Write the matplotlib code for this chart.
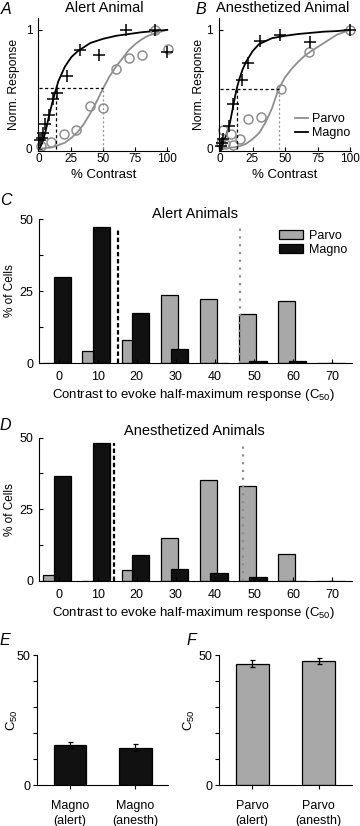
import matplotlib
matplotlib.use("Agg")
import matplotlib.pyplot as plt
import numpy as np
from matplotlib.patches import Patch
from matplotlib.lines import Line2D

plt.rcParams["font.family"] = ["Liberation Sans", "DejaVu Sans"]
plt.rcParams["mathtext.fontset"] = "custom"
plt.rcParams["mathtext.rm"] = "Liberation Sans"

GRAY = "#8e8e8e"
BARGRAY = "#a8a8a8"

# ---- panel A: alert animal, contrast response ----
a_magno_c = [0.8, 2.0, 2.9, 4.7, 7.8, 10.4, 13.8, 21.6, 31.5, 46.9, 68.0, 90.6, 100.0]
a_magno_r = [0.075, 0.09, 0.13, 0.21, 0.28, 0.42, 0.47, 0.61, 0.83, 0.79, 1.0, 1.0, 0.81]
a_parvo_c = [1.0, 9.5, 19.5, 29.0, 39.5, 50.0, 60.0, 70.0, 80.5, 90.5, 100.5]
a_parvo_r = [0.02, 0.06, 0.12, 0.16, 0.36, 0.34, 0.67, 0.76, 0.79, 1.0, 0.84]
a_magno_fit_c = [0, 2.5, 5, 7.5, 10, 12.5, 15, 20, 25, 30, 40, 50, 60, 70, 80, 90, 100]
a_magno_fit_r = [0.0, 0.05, 0.15, 0.27, 0.38, 0.48, 0.57, 0.69, 0.77, 0.82, 0.89, 0.925, 0.95, 0.965, 0.98, 0.99, 1.0]
a_parvo_fit_c = [0, 10, 20, 25, 30, 35, 40, 45, 50, 55, 60, 65, 70, 75, 80, 85, 90, 100]
a_parvo_fit_r = [0.0, 0.01, 0.05, 0.09, 0.14, 0.21, 0.30, 0.40, 0.51, 0.61, 0.69, 0.76, 0.83, 0.88, 0.92, 0.95, 0.97, 1.0]
a_c50 = (13.0, 50.0)
a_half = 0.51

# ---- panel B: anesthetized animal ----
b_magno_c = [0.5, 1.3, 2.6, 7.2, 10.3, 16.7, 21.8, 30.8, 46.2, 69.2, 100.0]
b_magno_r = [0.02, 0.05, 0.08, 0.19, 0.38, 0.58, 0.72, 0.91, 0.96, 0.90, 1.0]
b_parvo_c = [1.0, 2.4, 3.8, 8.2, 10.0, 15.4, 21.8, 31.5, 47.0, 68.5, 100.0]
b_parvo_r = [0.05, 0.16, 0.04, 0.12, 0.03, 0.08, 0.25, 0.27, 0.505, 0.81, 1.0]
b_magno_fit_c = [0, 2.5, 5, 7.5, 10, 12.5, 15, 17.5, 20, 25, 30, 40, 50, 60, 70, 80, 90, 100]
b_magno_fit_r = [0, 0.05, 0.12, 0.21, 0.35, 0.49, 0.59, 0.67, 0.73, 0.82, 0.88, 0.93, 0.95, 0.965, 0.975, 0.985, 0.99, 1.0]
b_parvo_fit_c = [0, 10, 15, 20, 25, 30, 35, 40, 45, 50, 55, 60, 65, 70, 80, 90, 100]
b_parvo_fit_r = [0, 0.01, 0.02, 0.04, 0.08, 0.13, 0.22, 0.34, 0.5, 0.6, 0.67, 0.73, 0.78, 0.82, 0.89, 0.96, 1.0]
b_c50 = (12.8, 45.0)
b_half = 0.5

# ---- panels C, D: C50 histograms ----
bins = [0, 10, 20, 30, 40, 50, 60, 70]
c_parvo = [0, 4.3, 7.9, 23.7, 22.3, 17.1, 21.4, 0]
c_magno = [29.7, 47.1, 17.4, 5.0, 0, 0.8, 0.8, 0]
c_lines = (15.2, 46.4)
c_line_top = 47.0
d_parvo = [2.0, 0, 3.7, 14.8, 35.1, 33.0, 9.3, 0]
d_magno = [36.5, 48.0, 9.0, 4.0, 2.8, 1.4, 0, 0]
d_lines = (14.1, 47.1)
d_line_top = 48.0

# ---- panels E, F: mean C50 ----
e_labels = ["Magno\n(alert)", "Magno\n(anesth)"]
e_means = [15.4, 14.4]
e_err = [1.0, 1.3]
f_labels = ["Parvo\n(alert)", "Parvo\n(anesth)"]
f_means = [46.7, 47.7]
f_err = [1.4, 1.0]

W, H = 360, 826
fig = plt.figure(figsize=(W / 100, H / 100), dpi=100)


def axes_px(x0, x1, ytop, ybot):
    return fig.add_axes([x0 / W, 1 - ybot / H, (x1 - x0) / W, (ybot - ytop) / H])


def style(ax, size, direction="in", xpad=2, ypad=3):
    ax.spines["top"].set_visible(False)
    ax.spines["right"].set_visible(False)
    ax.tick_params(direction=direction, length=3, width=0.8, labelsize=size)
    ax.tick_params(axis="x", pad=xpad)
    ax.tick_params(axis="y", pad=ypad)


def letter(x, y, s):
    fig.text(x / W, 1 - y / H, s, fontsize=11.5, style="italic", ha="left", va="top")


def response_panel(ax, title, mc, mr, pc, pr, mfc, mfr, pfc, pfr, c50, half, tx, ylx):
    ax.plot(pfc, pfr, color=GRAY, lw=1.3, clip_on=False)
    ax.plot(mfc, mfr, color="black", lw=1.3, clip_on=False)
    ax.plot(pc, pr, "o", mfc="none", mec=GRAY, ms=6.5, mew=1.1, clip_on=False)
    ax.plot(mc, mr, "+", color="black", ms=8, mew=1.1, clip_on=False)
    ax.plot([0, c50[1]], [half, half], color="black", ls=(0, (2.5, 2)), lw=0.9)
    ax.plot([c50[0], c50[0]], [0, half], color="black", ls=(0, (2.5, 2)), lw=0.9)
    ax.plot([c50[1], c50[1]], [0, half], color=GRAY, ls=(0, (1.5, 2)), lw=0.9)
    ax.set_xlim(-1, 101)
    ax.set_ylim(-0.02, 1.1)
    ax.set_xticks([0, 25, 50, 75, 100])
    ax.set_yticks([0, 1])
    ax.set_xlabel("% Contrast", fontsize=9.5)
    ax.xaxis.set_label_coords(0.5, -0.135)
    ax.set_ylabel("Norm. Response", fontsize=8.7)
    ax.yaxis.set_label_coords(ylx, 0.5)
    ax.text(tx, 1.045, title, fontsize=10.5, ha="center", va="baseline", transform=ax.transAxes)
    style(ax, 8.5, xpad=1.5, ypad=4)


axA = axes_px(38, 168.5, 18, 151)
response_panel(axA, "Alert Animal", a_magno_c, a_magno_r, a_parvo_c, a_parvo_r,
               a_magno_fit_c, a_magno_fit_r, a_parvo_fit_c, a_parvo_fit_r, a_c50, a_half,
               0.506, -0.138)
axB = axes_px(218.7, 351.3, 18, 151)
response_panel(axB, "Anesthetized Animal", b_magno_c, b_magno_r, b_parvo_c, b_parvo_r,
               b_magno_fit_c, b_magno_fit_r, b_parvo_fit_c, b_parvo_fit_r, b_c50, b_half,
               0.48, -0.103)
axB.legend(handles=[Line2D([], [], color=GRAY, lw=1.3, label="Parvo"),
                    Line2D([], [], color="black", lw=1.3, label="Magno")],
           loc="lower right", bbox_to_anchor=(1.03, 0.05), frameon=False, fontsize=9,
           handlelength=1.0, handletextpad=0.35, labelspacing=0.15, borderaxespad=0)
letter(1, 2, "A")
letter(195, 2, "B")


def hist_panel(ax, title, parvo, magno, lines, top, ty):
    x = np.array(bins, dtype=float)
    ax.bar(x - 1.7, parvo, width=4.4, color=BARGRAY, edgecolor="black", lw=0.9)
    ax.bar(x + 1.0, magno, width=4.4, color="#111111", edgecolor="black", lw=0.9)
    ax.plot([lines[0], lines[0]], [0, top], color="black", ls=(0, (2, 1.2)), lw=1.6)
    ax.plot([lines[1], lines[1]], [0, top], color=GRAY, ls=(0, (1, 2.5)), lw=1.6)
    ax.set_xlim(-5, 75)
    ax.set_ylim(0, 50)
    ax.set_xticks(bins)
    ax.set_yticks([0, 12.5, 25, 37.5, 50])
    ax.set_yticklabels(["0", "", "25", "", "50"])
    ax.set_xlabel("Contrast to evoke half-maximum response (C$_{50}$)", fontsize=9.5)
    ax.xaxis.set_label_coords(0.495, -0.17)
    ax.set_ylabel("% of Cells", fontsize=8.5)
    ax.yaxis.set_label_coords(-0.075, 0.5)
    ax.text(0.497, ty, title, fontsize=10.5, ha="center", va="baseline", transform=ax.transAxes)
    style(ax, 9, xpad=6, ypad=4)


axC = axes_px(39, 352, 219, 363)
hist_panel(axC, "Alert Animals", c_parvo, c_magno, c_lines, c_line_top, 1.01)
axC.legend(handles=[Patch(facecolor=BARGRAY, edgecolor="black", lw=0.9, label="Parvo"),
                    Patch(facecolor="#111111", edgecolor="black", lw=0.9, label="Magno")],
           loc="upper right", bbox_to_anchor=(1.0, 0.96), frameon=False, fontsize=9,
           handlelength=1.85, handleheight=0.75, handletextpad=0.5, labelspacing=0.2,
           borderaxespad=0)
axD = axes_px(39, 352, 437.7, 580.7)
hist_panel(axD, "Anesthetized Animals", d_parvo, d_magno, d_lines, d_line_top, 1.02)
letter(0, 193, "C")
letter(0, 418, "D")


def mean_panel(ax, labels, means, errs, color, ylx):
    pos = np.arange(1, len(means) + 1)
    ax.bar(pos, means, width=0.5, color=color, edgecolor="black", lw=0.9)
    ax.errorbar(pos, means, yerr=errs, fmt="none", ecolor="black", elinewidth=0.9,
                capsize=1.8, capthick=0.9)
    ax.set_xlim(0.5, 2.5)
    ax.set_ylim(0, 50)
    ax.set_yticks([0, 10, 20, 30, 40, 50])
    ax.set_yticklabels(["0", "", "", "", "", "50"])
    ax.set_xticks(pos)
    ax.set_xticklabels(labels, fontsize=9, linespacing=1.25)
    ax.set_ylabel("C$_{50}$", fontsize=9.5)
    ax.yaxis.set_label_coords(ylx, 0.5)
    style(ax, 9, direction="out", xpad=8, ypad=2)


axE = axes_px(37.3, 168, 655, 785)
mean_panel(axE, e_labels, e_means, e_err, "#111111", -0.13)
axF = axes_px(219, 351.7, 655, 785)
mean_panel(axF, f_labels, f_means, f_err, BARGRAY, -0.165)
letter(0, 633, "E")
letter(186, 633, "F")

fig.savefig("out.png", dpi=100)
